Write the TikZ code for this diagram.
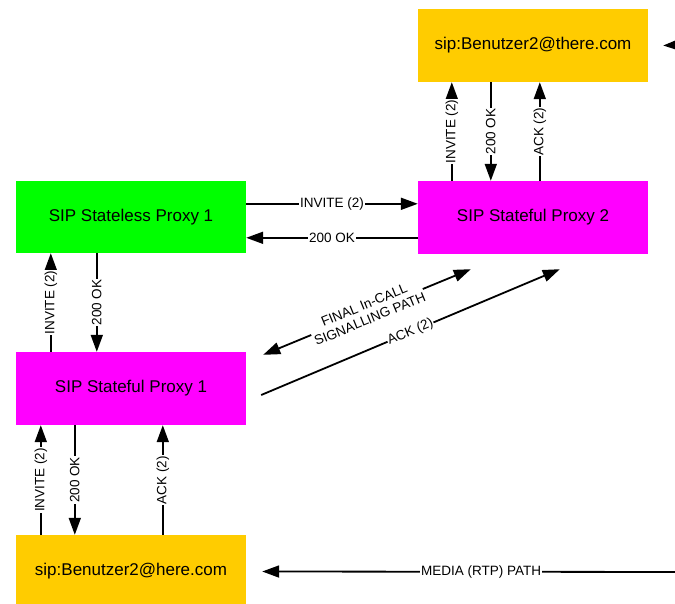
\documentclass[tikz,border=0pt]{standalone}
\usepackage{fontspec}
\setmainfont{Liberation Sans}
\usepackage{xcolor}
\usepackage{tikz}
\usetikzlibrary{positioning,arrows.meta}
\definecolor{uaYellow}{HTML}{FFCC00}
\definecolor{proxyGreen}{HTML}{00FF00}
\definecolor{proxyMagenta}{HTML}{FF00FF}
\tikzstyle{box}=[rectangle, minimum width=230pt, minimum height=73pt, inner sep=0pt,
        text centered, font=\fontsize{17}{20}\selectfont]
\tikzstyle{msg}=[line width=1.8pt, -{Triangle[length=17pt,width=12pt]}]
\tikzstyle{lbl}=[fill=white, inner sep=0.8pt, font=\fontsize{13.5}{15}\selectfont]

\begin{document}
\begin{tikzpicture}[x=1pt, y=-1pt]
      \useasboundingbox (0,0) rectangle (675,603);
      \clip (0,0) rectangle (675,603);
      % user agents and proxies
      \node (There) [box, fill=uaYellow] at (533,45.5) {sip:Benutzer2@there.com};
      \node (Stateless) [box, fill=proxyGreen, minimum height=72pt] at (131,217) {SIP Stateless Proxy 1};
      \node (Stateful2) [box, fill=proxyMagenta] at (533,217.5) {SIP Stateful Proxy 2};
      \node (Stateful1) [box, fill=proxyMagenta] at (131,388.5) {SIP Stateful Proxy 1};
      \node (Here) [box, fill=uaYellow] at (131,571.5) {sip:Benutzer2@here.com};
      % free ends
      \coordinate (FarTop) at (700,44);
      \coordinate (FarBottom) at (700,572);
      \coordinate (FinalA) at ([xshift=17pt,yshift=-3pt]Stateful1.north east);
      \coordinate (FinalB) at ([xshift=53pt,yshift=-15pt]Stateful2.south west);
      \coordinate (AckA) at ([xshift=15pt,yshift=-6.5pt]Stateful1.east);
      \coordinate (AckB) at ([xshift=142pt,yshift=-15pt]Stateful2.south west);

      % stateless <-> stateful 2
      \draw[msg] ([yshift=-23pt]Stateless.north east) -- ([yshift=-23pt]Stateful2.north west)
        node[lbl, midway] {INVITE (2)};
      \draw[msg] ([yshift=-57pt]Stateful2.north west) -- ([yshift=-57pt]Stateless.north east)
        node[lbl, midway] {200 OK};
      % stateless <-> stateful 1
      \draw[msg] ([xshift=35pt]Stateful1.north west) -- ([xshift=35pt]Stateless.south west)
        node[lbl, midway, rotate=90] {INVITE (2)};
      \draw[msg] ([xshift=81pt]Stateless.south west) -- ([xshift=81pt]Stateful1.north west)
        node[lbl, midway, rotate=90] {200 OK};
      % stateful 2 <-> there
      \draw[msg] ([xshift=34pt]Stateful2.north west) -- ([xshift=34pt]There.south west)
        node[lbl, midway, rotate=90] {INVITE (2)};
      \draw[msg] ([xshift=73pt]There.south west) -- ([xshift=73pt]Stateful2.north west)
        node[lbl, midway, rotate=90] {200 OK};
      \draw[msg] ([xshift=122pt]Stateful2.north west) -- ([xshift=122pt]There.south west)
        node[lbl, midway, rotate=90] {ACK (2)};
      % stateful 1 <-> here
      \draw[msg] ([xshift=25pt]Here.north west) -- ([xshift=25pt]Stateful1.south west)
        node[lbl, midway, rotate=90] {INVITE (2)};
      \draw[msg] ([xshift=59pt]Stateful1.south west) -- ([xshift=59pt]Here.north west)
        node[lbl, midway, rotate=90] {200 OK};
      \draw[msg] ([xshift=147pt]Here.north west) -- ([xshift=147pt]Stateful1.south west)
        node[lbl, midway, rotate=90] {ACK (2)};
      % in-call paths
      \draw[msg, {Triangle[length=17pt,width=12pt]}-{Triangle[length=17pt,width=12pt]}] (FinalA) -- (FinalB)
        node[lbl, midway, sloped, align=center] {FINAL In-CALL\\SIGNALLING PATH};
      \draw[msg] (AckA) -- (AckB)
        node[lbl, midway, sloped] {ACK (2)};
      \draw[msg] (FarTop) -- ([xshift=15pt]There.east);
      \draw[msg] (FarBottom) -- ([xshift=16pt]Here.east)
        node[lbl, midway] {MEDIA (RTP) PATH};
    \end{tikzpicture}
\end{document}
